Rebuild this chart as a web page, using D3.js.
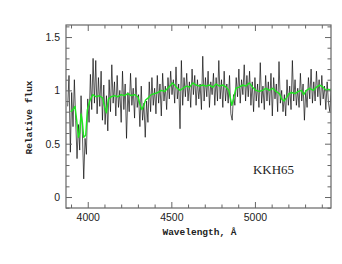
<!DOCTYPE html>
<html>
<head>
<meta charset="utf-8">
<script src="https://cdn.jsdelivr.net/npm/d3@7"></script>
<style>
body{margin:0;background:#fff;}
svg{display:block;}
</style>
</head>
<body>
<div id="spec"></div>
<script>
(function(){
var width = 342,
	height = 264,
	margin = {top:25,right:11,bottom:56,left:66};

// observed spectrum, sampled every 8 A from 3880 A
var fluxStart = 3880,
	fluxStep = 8;
var flux = [
	0.85,1.14,0.42,0.98,0.66,1.10,0.72,0.36,0.68,0.44,
	0.95,0.60,0.17,0.55,0.40,0.92,0.70,1.15,0.82,1.30,
	0.88,1.28,0.78,1.12,0.85,1.18,0.72,1.05,0.68,0.95,
	0.62,1.10,0.80,1.24,0.88,1.08,0.76,1.14,0.84,1.00,
	0.70,1.18,0.82,1.06,0.55,0.98,0.80,1.16,0.86,1.02,
	0.74,1.12,0.84,0.96,0.66,1.04,0.72,0.88,0.56,0.90,
	0.70,1.08,0.80,1.12,0.86,1.02,0.78,1.14,0.88,1.06,
	0.76,1.16,0.90,1.04,0.82,1.12,0.92,1.18,0.96,1.10,
	0.88,1.22,0.92,1.06,0.64,1.28,0.86,1.12,0.94,1.16,
	0.90,1.08,0.84,1.20,0.96,1.14,0.86,1.10,0.92,1.06,
	0.82,1.32,0.90,1.12,0.94,1.18,0.84,1.08,0.96,1.16,
	0.86,1.12,0.90,1.28,0.92,1.10,0.84,1.18,0.90,1.06,
	0.88,1.14,0.78,0.72,0.96,0.86,1.12,0.94,1.20,0.88,
	1.10,0.96,1.24,0.90,1.14,0.94,1.18,0.86,1.08,0.80,
	1.12,0.90,1.06,0.84,1.26,0.88,1.04,0.82,1.14,0.90,
	1.08,0.86,1.16,0.76,1.12,0.92,1.06,0.80,1.27,0.88,
	1.00,0.80,0.96,0.76,1.10,0.86,1.04,0.82,1.28,0.90,
	1.10,0.86,1.02,0.84,1.16,0.90,1.06,0.72,1.00,0.84,
	1.12,0.92,1.20,0.88,1.08,0.90,1.18,0.94,1.10,0.86,
	1.14,0.92,1.04,0.82,1.08,0.88,0.80,1.02
];

// smoothed model spectrum [wavelength, flux]
var model = [
	[3898,0.80],[3912,0.82],[3924,0.85],[3934,0.72],[3944,0.56],[3952,0.60],[3960,0.78],[3968,0.70],
	[3976,0.56],[3988,0.58],[3998,0.82],[4012,0.90],[4030,0.96],[4050,0.94],[4070,0.95],[4088,0.93],
	[4102,0.84],[4112,0.79],[4124,0.92],[4140,0.94],[4160,0.95],[4180,0.94],[4200,0.96],[4220,0.95],
	[4240,0.97],[4260,0.95],[4280,0.96],[4300,0.94],[4314,0.86],[4324,0.82],[4336,0.86],[4346,0.91],
	[4362,0.93],[4380,0.96],[4400,0.97],[4420,0.98],[4440,1.00],[4460,0.99],[4478,1.02],[4492,1.04],
	[4506,1.07],[4520,1.05],[4536,1.02],[4552,1.00],[4570,1.02],[4590,1.04],[4610,1.03],[4628,1.07],
	[4648,1.05],[4668,1.04],[4688,1.05],[4708,1.04],[4728,1.05],[4748,1.03],[4768,1.06],[4788,1.04],
	[4808,1.05],[4828,1.03],[4844,1.00],[4854,0.92],[4862,0.86],[4872,0.92],[4886,1.02],[4906,1.03],
	[4926,1.05],[4946,1.04],[4966,1.07],[4986,1.03],[5006,1.00],[5026,0.99],[5046,1.00],[5066,1.02],
	[5086,1.00],[5106,1.02],[5126,0.99],[5146,0.97],[5160,0.92],[5174,0.90],[5188,0.93],[5204,0.97],
	[5220,0.98],[5240,0.97],[5260,0.99],[5278,1.00],[5292,0.96],[5308,1.00],[5328,1.02],[5348,1.00],
	[5368,1.03],[5388,1.05],[5408,1.03],[5426,1.00],[5442,1.01],[5455,1.00]
];

var xDomain = [3870,5455],
	yDomain = [-0.103,1.613],
	xMajor = [4000,4500,5000],
	yMajor = [0,0.5,1,1.5],
	galaxy = "KKH65",
	xTitle = "Wavelength, Å",
	yTitle = "Relative flux";

var w = width-margin.left-margin.right,
	h = height-margin.top-margin.bottom;

var X = d3.scaleLinear().domain(xDomain).range([0,w]);
var Y = d3.scaleLinear().domain(yDomain).range([h,0]);

var xMinor = d3.range(3900,5455,100).filter(function(d){return xMajor.indexOf(d)<0});
var yMinor = d3.range(-1,17).map(function(d){return d/10}).filter(function(d){return d>yDomain[0] && d<yDomain[1] && yMajor.indexOf(d)<0});

var svg = d3.select("#spec").append("svg")
	.attr("width",width)
	.attr("height",height);

svg.append("rect").attr("width",width).attr("height",height).attr("fill","#fff");

var g = svg.append("g").attr("transform","translate("+margin.left+","+margin.top+")");

g.append("clipPath").attr("id","clip").append("rect").attr("width",w).attr("height",h);

var plot = g.append("g").attr("clip-path","url(#clip)");

var line = d3.line()
	.x(function(d){return X(d[0])})
	.y(function(d){return Y(d[1])});

plot.append("path")
	.datum(flux.map(function(v,i){return [fluxStart+fluxStep*i, v]}))
	.attr("d",line)
	.attr("fill","none")
	.attr("stroke","#000")
	.attr("stroke-width",0.65)
	.attr("stroke-linejoin","round");

plot.append("path")
	.datum(model)
	.attr("d",line)
	.attr("fill","none")
	.attr("stroke","#1ee61e")
	.attr("stroke-width",1.4)
	.attr("stroke-linejoin","round");

// axes: ticks on all four sides pointing inward
var axCol = "#666";
function styleAxis(sel){
	sel.select(".domain").remove();
	sel.selectAll("line").attr("stroke",axCol);
	sel.selectAll("text").attr("fill","#222").style("font-family","'Liberation Sans',Arial,sans-serif").style("font-size","10.5px");
}

g.append("g").attr("transform","translate(0,"+h+")")
	.call(d3.axisBottom(X).tickValues(xMajor).tickSize(-6).tickPadding(6).tickFormat(d3.format("d")))
	.call(styleAxis);
g.append("g").attr("transform","translate(0,"+h+")")
	.call(d3.axisBottom(X).tickValues(xMinor).tickSize(-3.5).tickFormat(""))
	.call(styleAxis);
g.append("g")
	.call(d3.axisTop(X).tickValues(xMajor).tickSize(-6).tickFormat(""))
	.call(styleAxis);
g.append("g")
	.call(d3.axisTop(X).tickValues(xMinor).tickSize(-3.5).tickFormat(""))
	.call(styleAxis);

g.append("g")
	.call(d3.axisLeft(Y).tickValues(yMajor).tickSize(-6).tickPadding(6).tickFormat(function(d){return String(d)}))
	.call(styleAxis);
g.append("g")
	.call(d3.axisLeft(Y).tickValues(yMinor).tickSize(-3.5).tickFormat(""))
	.call(styleAxis);
g.append("g").attr("transform","translate("+w+",0)")
	.call(d3.axisRight(Y).tickValues(yMajor).tickSize(-6).tickFormat(""))
	.call(styleAxis);
g.append("g").attr("transform","translate("+w+",0)")
	.call(d3.axisRight(Y).tickValues(yMinor).tickSize(-3.5).tickFormat(""))
	.call(styleAxis);

g.append("rect")
	.attr("width",w).attr("height",h)
	.attr("fill","none")
	.attr("stroke",axCol)
	.attr("stroke-width",1.2);

g.append("text")
	.attr("x",X(4988)).attr("y",Y(0.218))
	.attr("font-family","'Liberation Serif','DejaVu Serif',serif")
	.attr("font-size",13)
	.attr("fill","#222")
	.text(galaxy);

g.append("text")
	.attr("x",w/2+1).attr("y",h+27)
	.attr("text-anchor","middle")
	.attr("font-family","'Liberation Mono','DejaVu Sans Mono',monospace")
	.attr("font-size",9.5)
	.attr("font-weight","bold")
	.attr("fill","#222")
	.text(xTitle);

g.append("text")
	.attr("transform","translate(-34,"+(h/2+1)+") rotate(-90)")
	.attr("text-anchor","middle")
	.attr("font-family","'Liberation Mono','DejaVu Sans Mono',monospace")
	.attr("font-size",9.5)
	.attr("font-weight","bold")
	.attr("fill","#222")
	.text(yTitle);
})()
</script>
</body>
</html>
